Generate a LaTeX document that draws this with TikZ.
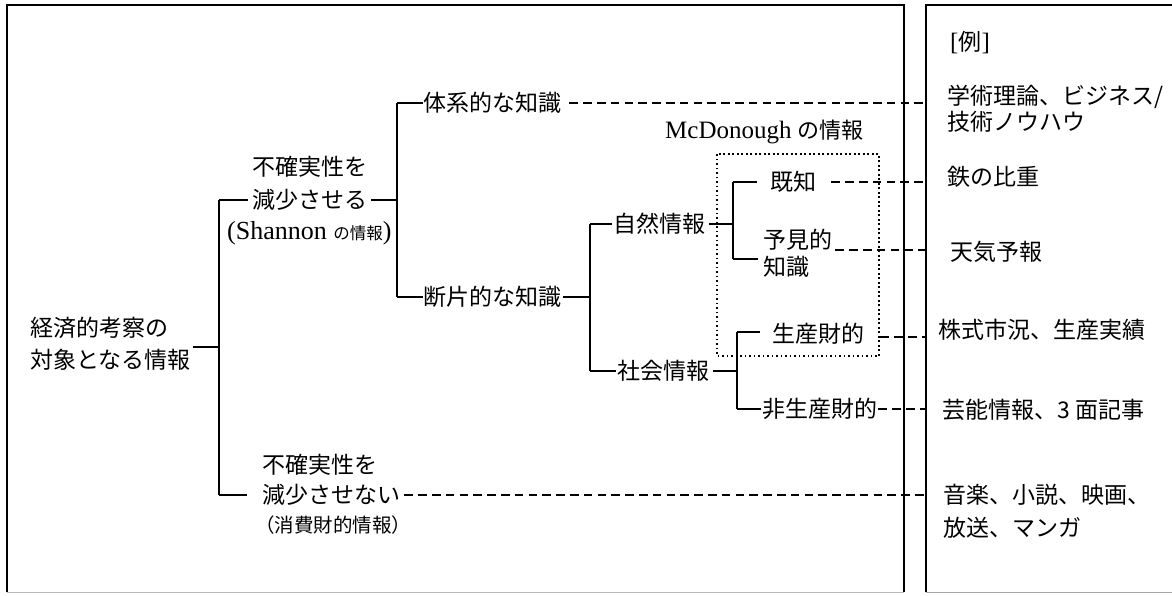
\documentclass[tikz,border=0pt]{standalone}
\usepackage{fontspec}
\newfontfamily\jp{Noto Sans CJK JP}
\newfontfamily\lat{Liberation Serif}
\begin{document}
\begin{tikzpicture}[x=1pt,y=-1pt,
  jt/.style={font=\fontsize{23}{28}\selectfont\jp, inner sep=0pt, anchor=west},
  lt/.style={inner sep=0pt, anchor=west},
  ln/.style={line width=1.3pt},
  dl/.style={line width=1.2pt, dash pattern=on 8.5pt off 5.3pt},
  dt/.style={line width=1.7pt, dash pattern=on 1.7pt off 2.8pt},
  frame/.style={line width=1.4pt}]
\useasboundingbox (0,0) rectangle (1172,595);
% frames
\coordinate (LB1) at (7,592); \coordinate (LB2) at (7,5);
\coordinate (LB3) at (904,5); \coordinate (LB4) at (904,592);
\coordinate (RB1) at (926,592); \coordinate (RB2) at (926,5);
\coordinate (RB3) at (1172,5); \coordinate (RB4) at (1172,592);
\draw[frame] (LB1) -- (LB2) -- (LB3) -- (LB4);
\draw[gray!55, line width=0.8pt] (LB1) -- (LB4);
\draw[frame] (RB1) -- (RB2) -- (RB3);
\draw[gray!70, line width=0.9pt] (RB1) -- (RB4);
\coordinate (E) at (926,300);

% text nodes
\node[jt] (r1) at (30,328) {経済的考察の};
\node[jt] (r2) at (30,360) {対象となる情報};
\node[jt] (a1) at (252,167) {不確実性を};
\node[jt] (a2) at (252,200) {減少させる};
\node[lt, font=\fontsize{26}{30}\selectfont\lat] (a3) at (227,233) {(Shannon {\fontsize{16.5}{20}\selectfont\jp の情報})};
\node[jt] (b1) at (262,465) {不確実性を};
\node[jt] (b2) at (262,495) {減少させない};
\node[jt, font=\fontsize{19.5}{24}\selectfont\jp] (b3) at (255,525) {（消費財的情報）};
\node[jt] (k1) at (423,103) {体系的な知識};
\node[jt] (k2) at (423,297) {断片的な知識};
\node[jt] (s1) at (613,224) {自然情報};
\node[jt] (s2) at (617,371) {社会情報};
\node[jt] (t1) at (770,182) {既知};
\node[jt] (t2a) at (763,240) {予見的};
\node[jt] (t2b) at (763,267) {知識};
\node[jt] (p1) at (772,334) {生産財的};
\node[jt] (p2) at (762,409) {非生産財的};
\node[inner sep=0pt, anchor=east, font=\fontsize{25}{30}\selectfont\lat] (mc) at (864,132) {McDonough {\fontsize{22}{28}\selectfont\jp の情報}};

% examples
\node[lt, font=\fontsize{25}{28}\selectfont\lat] (ex) at (950,43) {[{\fontsize{23}{28}\selectfont\jp 例}]};
\node[jt] (e1a) at (947,97) {学術理論、ビジネス/};
\node[jt] (e1b) at (947,122) {技術ノウハウ};
\node[jt] (e2) at (947,177) {鉄の比重};
\node[jt] (e3) at (950,252) {天気予報};
\node[jt] (e4) at (938,330) {株式市況、生産実績};
\node[jt] (e5) at (942,410) {芸能情報、3 面記事};
\node[jt] (e6a) at (943,495) {音楽、小説、映画、};
\node[jt] (e6b) at (943,528) {放送、マンガ};

% dotted McDonough box
\draw[dt] (717,154) rectangle (879,356);

% tree connectors
\coordinate (J0) at (219,347);
\coordinate (V1t) at (219,200); \coordinate (V1b) at (219,495);
\draw[ln] ([xshift=2pt]r2.east |- J0) -- (J0);
\draw[ln] (V1t) -- (V1b);
\draw[ln] (V1t) -- ([xshift=-4pt]a2.west);
\coordinate (V2m) at (397,200);
\coordinate (V2t) at (397,103); \coordinate (V2b) at (397,297);
\draw[ln] ([xshift=4pt]a2.east) -- (V2m);
\draw[ln] (V2t) -- (V2b);
\draw[ln] (V1b) -- ([xshift=-15pt]b2.west);
\draw[ln] (V2t) -- (k1.west);
\draw[ln] (V2b) -- (k2.west);
\coordinate (V3m) at (590,297);
\coordinate (V3t) at (590,224); \coordinate (V3b) at (590,371);
\draw[ln] ([xshift=2pt]k2.east) -- (V3m);
\draw[ln] (V3t) -- (V3b);
\draw[ln] (V3t) -- ([xshift=-1pt]s1.west);
\draw[ln] (V3b) -- ([xshift=-1pt]s2.west);
\coordinate (V4m) at (733,224);
\coordinate (V4t) at (733,182); \coordinate (V4b) at (733,259);
\draw[ln] ([xshift=4pt]s1.east) -- (V4m);
\draw[ln] (V4t) -- (V4b);
\draw[ln] (V4t) -- ([xshift=-13pt]t1.west);
\draw[ln] (V4b) -- ([xshift=-5pt]t2b.west |- V4b);
\coordinate (V5m) at (737,371);
\coordinate (V5t) at (737,332); \coordinate (V5b) at (737,409);
\draw[ln] ([xshift=4pt]s2.east) -- (V5m);
\draw[ln] (V5t) -- (V5b);
\draw[ln] (V5t) -- ([xshift=-12pt]p1.west |- V5t);
\draw[ln] (V5b) -- ([xshift=-1pt]p2.west);

% dashed links to examples
\draw[dl] ([xshift=8pt]k1.east) -- (E |- k1.east);
\draw[dl] ([xshift=15pt]t1.east) -- (E |- t1.east);
\coordinate (T2) at ([xshift=3pt,yshift=-10pt]t2a.east);
\draw[dl] (T2) -- (E |- T2);
\coordinate (P1) at ([xshift=16pt,yshift=-3pt]p1.east);
\draw[dl] (P1) -- (E |- P1);
\draw[dl] ([xshift=1pt]p2.east) -- (E |- p2.east);
\draw[dl] ([xshift=4pt]b2.east) -- (E |- b2.east);
\end{tikzpicture}
\end{document}
